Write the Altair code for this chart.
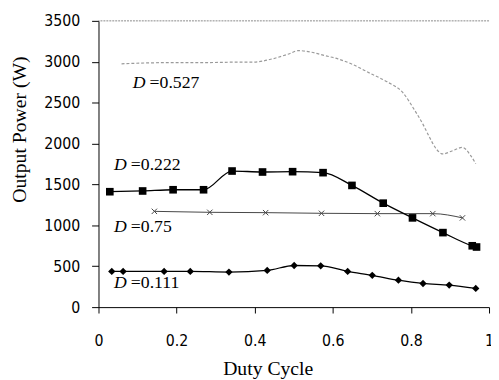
import altair as alt
import pandas as pd

# D = 0.527 (light dotted curve)
d527_x = [0.059, 0.12, 0.2, 0.28, 0.35, 0.395, 0.445, 0.487, 0.512, 0.546, 0.579, 0.613, 0.647, 0.697, 0.739, 0.781, 0.806, 0.831, 0.848, 0.865, 0.882, 0.907, 0.932, 0.953, 0.966]
d527_y = [2975, 2985, 2990, 2990, 2995, 2995, 3035, 3095, 3136, 3116, 3076, 3035, 2975, 2855, 2755, 2614, 2434, 2234, 2073, 1933, 1873, 1913, 1953, 1853, 1753]

# D = 0.222 (squares)
d222_x = [0.029, 0.113, 0.191, 0.269, 0.342, 0.42, 0.497, 0.575, 0.649, 0.729, 0.804, 0.882, 0.957, 0.968]
d222_y = [1411, 1420, 1435, 1435, 1664, 1652, 1656, 1644, 1488, 1271, 1091, 911, 750, 735]

# D = 0.75 (thin line, x markers)
d75_x = [0.143, 0.285, 0.428, 0.571, 0.714, 0.856, 0.932]
d75_y = [1171, 1159, 1155, 1147, 1143, 1143, 1091]

# D = 0.111 (diamonds)
d111_x = [0.034, 0.063, 0.168, 0.235, 0.334, 0.432, 0.501, 0.569, 0.638, 0.701, 0.768, 0.831, 0.898, 0.966]
d111_y = [437, 437, 437, 437, 429, 449, 509, 505, 437, 389, 329, 289, 269, 229]

# annotation labels
label_text = ["=0.527", "=0.222", "=0.75", "=0.111"]
label_x = [0.088, 0.04, 0.04, 0.04]
label_y = [2743, 1732, 974, 300]

x_ticks = [0, 0.2, 0.4, 0.6, 0.8, 1]
y_ticks = [0, 500, 1000, 1500, 2000, 2500, 3000, 3500]

serif = "Liberation Serif, Times New Roman, serif"
tickfont = "DejaVu Sans Condensed, Liberation Sans Narrow, Arial, sans-serif"

xscale = alt.Scale(domain=[0, 1], nice=False, zero=False)
yscale = alt.Scale(domain=[0, 3500], nice=False)

xenc = alt.X("x:Q", scale=xscale, axis=alt.Axis(
    values=x_ticks, title="Duty Cycle", grid=False, domainColor="black",
    tickColor="black", tickSize=6, labelFont=tickfont, labelFontSize=16,
    labelColor="black", labelPadding=20, labelFlush=False,
    format="~g", titleFont=serif, titleFontSize=20, titleFontWeight="normal",
    titleColor="black", titleX=172, titleY=63, titleAlign="center",
    titleBaseline="middle"))
yenc = alt.Y("y:Q", scale=yscale, axis=alt.Axis(
    values=y_ticks, title="Output Power (W)", grid=False, domainColor="black",
    tickColor="black", tickSize=7, labelFont=tickfont, labelFontSize=16,
    labelColor="black", labelPadding=12, labelFlush=False, format="d",
    titleFont=serif, titleFontSize=20, titleFontWeight="normal",
    titleColor="black", titleX=-80, titleY=110, titleAlign="center",
    titleBaseline="middle", titleAngle=-90))

def df(xs, ys):
    return pd.DataFrame({"x": xs, "y": ys})

top = alt.Chart(pd.DataFrame({"y": [3500]})).mark_rule(
    color="#888", strokeWidth=1, strokeDash=[2, 1]).encode(y=alt.Y("y:Q", scale=yscale))

l527 = alt.Chart(df(d527_x, d527_y)).mark_line(
    color="#9a9a9a", strokeWidth=1.2, strokeDash=[3, 2], interpolate="monotone"
).encode(x=xenc, y=yenc)

l222 = alt.Chart(df(d222_x, d222_y)).mark_line(
    color="black", strokeWidth=1.3, interpolate="monotone",
    point=alt.OverlayMarkDef(shape="square", filled=True, color="black", size=60)
).encode(x=xenc, y=yenc)

l75 = alt.Chart(df(d75_x, d75_y)).mark_line(
    color="#444", strokeWidth=1, interpolate="monotone",
    point=alt.OverlayMarkDef(shape="M-1,-1L1,1M-1,1L1,-1", filled=False,
                             color="#444", size=30, strokeWidth=1)
).encode(x=xenc, y=yenc)

l111 = alt.Chart(df(d111_x, d111_y)).mark_line(
    color="black", strokeWidth=1.3, interpolate="monotone",
    point=alt.OverlayMarkDef(shape="diamond", filled=True, color="black", size=55)
).encode(x=xenc, y=yenc)

lab = pd.DataFrame({"t": label_text, "x": label_x, "y": label_y})
labD = alt.Chart(lab).mark_text(
    text="D", font=serif, fontSize=18, fontStyle="italic", align="left",
    baseline="middle", color="black"
).encode(x=alt.X("x:Q", scale=xscale), y=alt.Y("y:Q", scale=yscale))
labV = alt.Chart(lab).mark_text(
    font=serif, fontSize=18, align="left", baseline="middle", color="black", dx=17
).encode(x=alt.X("x:Q", scale=xscale), y=alt.Y("y:Q", scale=yscale), text="t:N")

chart = alt.layer(top, l527, l75, l222, l111, labD, labV).properties(
    width=397, height=291,
    autosize=alt.AutoSizeParams(type="none"),
    padding={"left": 92, "top": 10, "right": 2, "bottom": 70},
    background="white",
).configure_view(stroke=None)

chart.save("out.html", embed_options={"renderer": "svg", "actions": False})
